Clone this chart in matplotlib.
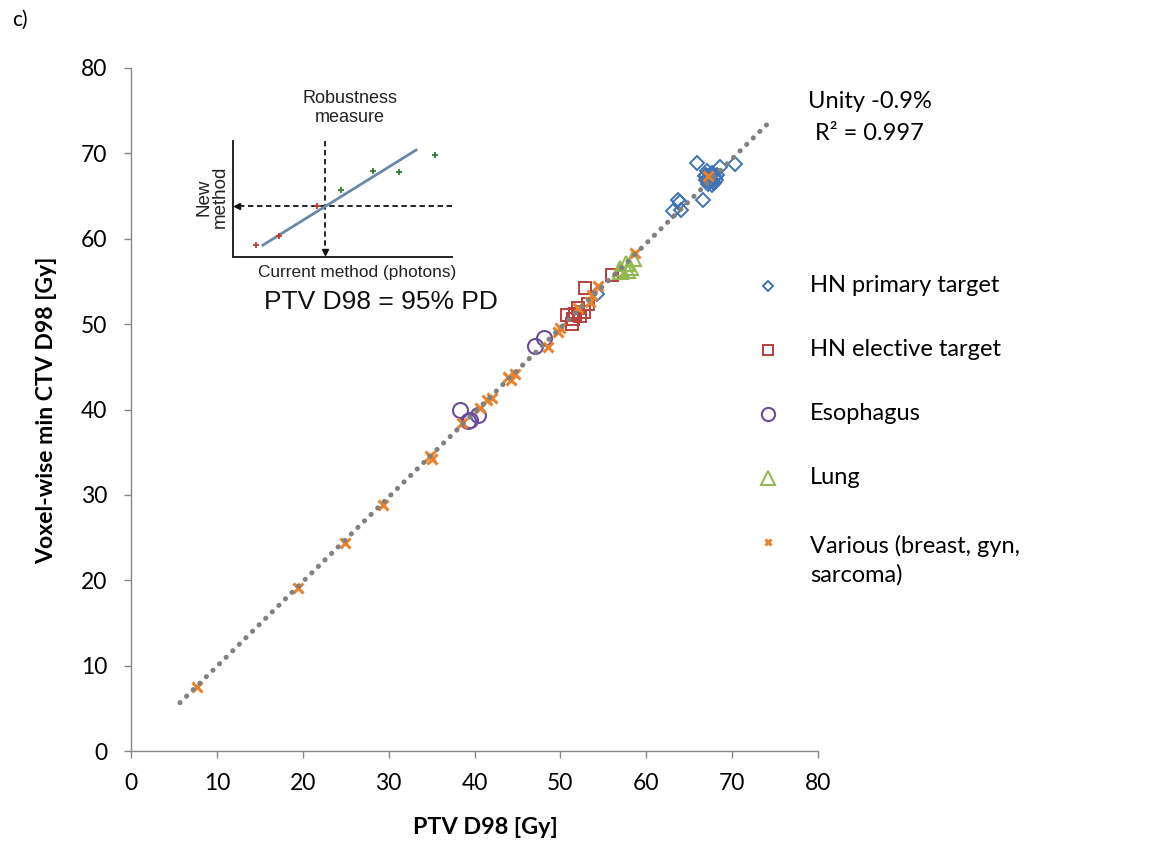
import matplotlib
matplotlib.use("Agg")
import matplotlib.pyplot as plt
from matplotlib.lines import Line2D

plt.rcParams['font.family'] = ['Lato', 'DejaVu Sans']

# ---------------- data ----------------
hn_primary_x = [65.9, 68.6, 70.3, 66.6, 63.9, 63.1, 64.1, 63.7, 54.3,
                67.0, 67.5, 67.8, 67.3, 68.0, 67.6, 66.9, 68.2, 67.4, 67.9,
                67.1, 67.7, 66.8, 68.1, 67.5, 67.2]
hn_primary_y = [68.9, 68.4, 68.8, 64.5, 64.3, 63.2, 63.4, 64.5, 53.5,
                67.5, 67.0, 66.6, 66.8, 67.2, 67.7, 66.9, 67.5, 67.3, 66.5,
                67.9, 66.3, 67.3, 66.9, 67.6, 66.4]

hn_elective_x = [56.0, 52.9, 50.8, 51.3, 52.1, 52.7, 51.7, 53.2, 52.3, 51.5]
hn_elective_y = [55.8, 54.2, 51.1, 50.0, 51.9, 51.4, 51.2, 52.3, 51.0, 50.6]

esophagus_x = [47.0, 48.1, 38.3, 39.5, 40.4, 39.3]
esophagus_y = [47.4, 48.4, 39.9, 38.8, 39.3, 38.6]

lung_x = [57.0, 57.6, 58.4, 57.8, 58.1, 56.9]
lung_y = [56.6, 57.2, 57.8, 56.3, 56.7, 56.2]

various_x = [7.7, 19.5, 24.9, 29.3, 34.8, 35.1, 38.5, 40.6, 41.5, 42.0, 43.9,
             44.3, 44.7, 48.6, 49.7, 49.9, 52.0, 53.5, 53.7, 54.4, 58.7, 67.2]
various_y = [7.5, 19.1, 24.4, 28.8, 34.5, 34.2, 38.4, 40.2, 41.1, 41.4, 43.8,
             43.5, 44.2, 47.3, 49.1, 49.5, 51.9, 52.6, 53.4, 54.5, 58.3, 67.3]

trend_slope = 0.991          # "Unity -0.9%"
trend_x = [5.7, 74.0]

series_labels = ["HN primary target", "HN elective target", "Esophagus", "Lung",
                 "Various (breast, gyn,\nsarcoma)"]

x_ticks = [0, 10, 20, 30, 40, 50, 60, 70, 80]
y_ticks = [0, 10, 20, 30, 40, 50, 60, 70, 80]

# inset schematic (normalised 0..1 coordinates)
inset_red_x = [0.105, 0.21, 0.384]
inset_red_y = [0.103, 0.181, 0.44]
inset_green_x = [0.493, 0.639, 0.758, 0.922]
inset_green_y = [0.578, 0.741, 0.733, 0.879]
inset_line_x = [0.137, 0.836]
inset_line_y = [0.103, 0.922]
inset_measure_x = 0.42
inset_measure_y = 0.44

# ---------------- styling ----------------
W, H = 1170, 843
fig = plt.figure(figsize=(W / 100, H / 100), dpi=100)

def fx(px):
    return px / W

def fy(py):
    return 1 - py / H

ax = fig.add_axes([fx(131), fy(751), fx(818) - fx(131), fy(68) - fy(751)])

c_blue = '#3F72B5'
c_red = '#B8403D'
c_purple = '#6B4C9A'
c_green = '#93B954'
c_orange = '#E8822E'
c_grey = '#808080'

styles = [
    dict(marker='D', ms=7.0, mfc='none', mec=c_blue, mew=1.4),
    dict(marker='s', ms=8.5, mfc='none', mec=c_red, mew=1.4),
    dict(marker='o', ms=10.8, mfc='none', mec=c_purple, mew=1.5),
    dict(marker='^', ms=10.8, mfc='none', mec=c_green, mew=1.5),
    dict(marker='x', ms=6.5, mfc='none', mec=c_orange, mew=2.2),
]
data = [(hn_primary_x, hn_primary_y), (hn_elective_x, hn_elective_y),
        (esophagus_x, esophagus_y), (lung_x, lung_y), (various_x, various_y)]

for (xs, ys), st in zip(data, styles):
    ax.plot(xs, ys, linestyle='none', zorder=3, **st)

ty = [trend_slope * v for v in trend_x]
ax.plot(trend_x, ty, color=c_grey, lw=3.6, linestyle=(0, (0.05, 1.8)),
        dash_capstyle='round', zorder=4)

ax.set_xlim(0, 80)
ax.set_ylim(0, 80)
ax.set_xticks(x_ticks)
ax.set_yticks(y_ticks)
ax.set_xticklabels([str(v) for v in x_ticks])
ax.set_yticklabels([str(v) for v in y_ticks])
for s in ['top', 'right']:
    ax.spines[s].set_visible(False)
for s in ['left', 'bottom']:
    ax.spines[s].set_color('#868686')
    ax.spines[s].set_linewidth(1.0)
ax.tick_params(axis='both', direction='out', length=5, width=1.0, color='#868686',
               labelsize=16.5, labelcolor='black')
ax.tick_params(axis='x', pad=11)
ax.tick_params(axis='y', pad=12)

fig.text(fx(485), fy(827), "PTV D98 [Gy]", ha='center', va='center',
         fontsize=16.8, fontweight='bold')
fig.text(fx(47), fy(410), "Voxel-wise min CTV D98 [Gy]", ha='center', va='center',
         rotation=90, fontsize=16.6, fontweight='bold')
fig.text(fx(12), fy(20), "c)", ha='left', va='center', fontsize=15)

fig.text(fx(808), fy(101), "Unity -0.9%", ha='left', va='center', fontsize=17)
fig.text(fx(815), fy(133), "R² = 0.997", ha='left', va='center', fontsize=17)

# manual legend
leg_y = [286, 350, 414, 478, 560]
leg_marker_y = [286, 350, 414, 478, 542]
leg_styles = [
    dict(marker='D', ms=5.2, mfc='none', mec=c_blue, mew=1.4),
    dict(marker='s', ms=7.2, mfc='none', mec=c_red, mew=1.4),
    dict(marker='o', ms=9.5, mfc='none', mec=c_purple, mew=1.5),
    dict(marker='^', ms=10.0, mfc='none', mec=c_green, mew=1.5),
    dict(marker='x', ms=4.8, mfc='none', mec=c_orange, mew=2.2),
]
for lab, yt, ym, st in zip(series_labels, leg_y, leg_marker_y, leg_styles):
    fig.add_artist(Line2D([fx(768)], [fy(ym)], transform=fig.transFigure,
                          linestyle='none', **st))
    fig.text(fx(810), fy(yt), lab, ha='left', va='center', fontsize=17,
             linespacing=1.42)

# inset schematic
ix0, ix1, iy0, iy1 = 233, 452, 141, 257
iax = fig.add_axes([fx(ix0), fy(iy1), fx(ix1) - fx(ix0), fy(iy0) - fy(iy1)])
iax.set_xlim(0, 1)
iax.set_ylim(0, 1)
iax.set_xticks([])
iax.set_yticks([])
iax.patch.set_alpha(0)
for s in ['top', 'right']:
    iax.spines[s].set_visible(False)
for s in ['left', 'bottom']:
    iax.spines[s].set_color('#222222')
    iax.spines[s].set_linewidth(1.4)
iax.plot([inset_measure_x, inset_measure_x], [1.0, 0.03], color='#111111', lw=1.3,
         linestyle=(0, (3, 2)), clip_on=False)
iax.plot([inset_measure_x], [0.04], marker='v', ms=4, color='#111111', clip_on=False)
iax.plot([1.0, 0.02], [inset_measure_y, inset_measure_y], color='#111111', lw=1.3,
         linestyle=(0, (3, 2)), clip_on=False)
iax.plot([0.02], [inset_measure_y], marker='<', ms=4, color='#111111', clip_on=False)
iax.plot(inset_line_x, inset_line_y, color='#6A88A8', lw=2.0, zorder=2)
iax.plot(inset_red_x, inset_red_y, linestyle='none', marker='+', ms=5, mew=1.3,
         color='#C0392B', clip_on=False)
iax.plot(inset_green_x, inset_green_y, linestyle='none', marker='+', ms=5, mew=1.3,
         color='#2E7D32', clip_on=False)

ifam = ['Liberation Sans', 'DejaVu Sans']
fig.text(fx(350), fy(108), "Robustness\nmeasure", ha='center', va='center',
         fontsize=13, family=ifam, color='#222222', linespacing=1.2)
fig.text(fx(357), fy(272), "Current method (photons)", ha='center', va='center',
         fontsize=12.4, family=ifam, color='#222222')
fig.text(fx(212), fy(197), "New\nmethod", ha='center', va='center', rotation=90,
         fontsize=13.5, family=ifam, color='#222222', linespacing=1.0)
fig.text(fx(381), fy(302), "PTV D98 = 95% PD", ha='center', va='center',
         fontsize=19, family=ifam, color='#111111')

fig.savefig("out.png", dpi=100)
